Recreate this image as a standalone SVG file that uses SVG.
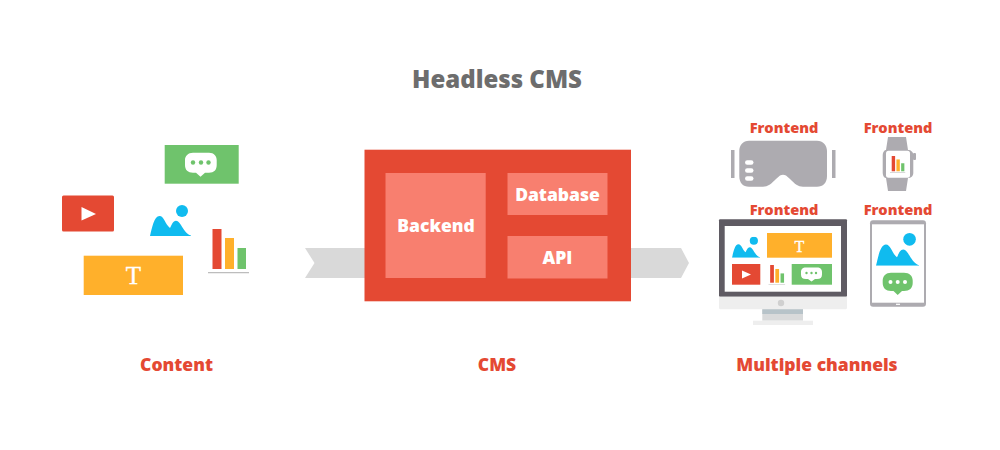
<svg xmlns="http://www.w3.org/2000/svg" width="1000" height="450" viewBox="0 0 1000 450">
<style>
text{font-family:"Open Sans","Liberation Sans",sans-serif;font-weight:800;text-anchor:middle}
.lab{fill:#e44933;font-size:17.5px}
.fe{fill:#e44933;font-size:14.6px}
.in{fill:#fff;font-size:17.5px}
.ttl{fill:#6d6d6d;font-size:24px}
.t{font-family:"Liberation Serif","DejaVu Serif",serif;font-weight:400;fill:#fff;stroke:#fff;stroke-width:.35}
.red{fill:#e44933}.yel{fill:#ffb02b}.grn{fill:#6fc36c}.blu{fill:#10bbef}.sal{fill:#f87f6f}.gry{fill:#adabb0}.arr{fill:#d9d9d9}
</style>
<defs>
<symbol id="mtn" viewBox="0 5 41 31" preserveAspectRatio="none">
<circle class="blu" cx="32" cy="11" r="6"/>
<path class="blu" d="M0 36C2 28 4 16 9.500 16C14 16 15 24 20 28C21.500 25 23 20.700 26 20.700C31 20.700 33 33 41 35.500L41 36Z"/>
</symbol>
<symbol id="cht" viewBox="0 0 41 44.500" preserveAspectRatio="none">
<rect class="red" x="4.500" width="9" height="40"/>
<rect class="yel" x="17" y="9" width="9" height="31"/>
<rect class="grn" x="29.500" y="19" width="8.500" height="21"/>
<rect fill="#bdbdbd" y="43" width="41" height="1.500"/>
</symbol>
</defs>
<text class="ttl" x="497" y="88">Headless CMS</text>
<g id="connectors">
<path class="arr" d="M305 248H365V278H305L314.500 263Z"/>
<path class="arr" d="M631 248H681L689 263L681 278H631Z"/>
</g>
<g id="content">
<g id="content-chat">
<rect class="grn" x="164.700" y="145" width="74" height="38.700"/>
<path fill="#fff" d="M193 152.700H209C214 152.700 216.700 156 216.700 160V165C216.700 170 214 172.700 209 172.700H205L200.500 176.700L196 172.700H193C188 172.700 185 170 185 165V160C185 156 188 152.700 193 152.700Z"/>
<g class="grn"><circle cx="193" cy="162.500" r="2.200"/><circle cx="201" cy="162.500" r="2.200"/><circle cx="208.500" cy="162.500" r="2.200"/></g>
</g>
<g id="content-video">
<rect class="red" x="62" y="195.500" width="52" height="36" rx="1.500"/>
<path fill="#fff" d="M81.500 207L96 214L81.500 220.500Z"/>
</g>
<use id="content-image" href="#mtn" x="150" y="205" width="41" height="31"/>
<g id="content-text">
<rect class="yel" x="83.700" y="255.700" width="99.300" height="39.300"/>
<text class="t" x="133.500" y="284" font-size="25">T</text>
</g>
<use id="content-chart" href="#cht" x="208" y="229" width="41" height="44.500"/>
</g>
<g id="cms">
<rect class="red" x="364.500" y="149.700" width="266.500" height="151.600"/>
<g id="backend"><rect class="sal" x="385.500" y="173" width="100.200" height="105"/><text class="in" x="436" y="231.500">Backend</text></g>
<g id="database"><rect class="sal" x="507.500" y="173" width="100" height="42"/><text class="in" x="557.500" y="200.500">Database</text></g>
<g id="api"><rect class="sal" x="507.500" y="236" width="100" height="42.500"/><text class="in" x="557.500" y="263.500">API</text></g>
</g>
<g id="vr">
<text class="fe" x="784" y="132.500">Frontend</text>
<path class="gry" d="M749 140.700H817C823 140.700 827 145 827 151V176C827 183 823 186.700 817 186.700H803C798 186.700 795 184 790 179L786 175.500Q783 174 780 175.500L776 179C771 184 768 186.700 763 186.700H749C743 186.700 739.300 183 739.300 176V151C739.300 145 743 140.700 749 140.700Z"/>
<rect class="gry" x="731" y="150" width="3.500" height="28"/>
<rect class="gry" x="832" y="150" width="3.500" height="28"/>
<g fill="#fff"><rect x="745" y="160.300" width="8.500" height="4.500" rx="2.250"/><rect x="745" y="168.300" width="8.500" height="4.500" rx="2.250"/><rect x="745" y="176.300" width="8.500" height="4.500" rx="2.250"/></g>
</g>
<g id="watch">
<text class="fe" x="898" y="132.500">Frontend</text>
<path class="gry" d="M888 137H906L908 150C911 150 913.300 152 913.300 155V173C913.300 176 911 178 908 178L906 191H888L886 178C884.500 178 882.700 176 882.700 173V155C882.700 152 884.500 150 886 150Z"/>
<rect class="gry" x="913" y="153" width="3" height="7" rx="1"/>
<rect fill="#fff" x="886" y="150.700" width="24" height="27" rx="2.500"/>
<use href="#cht" x="890" y="156" width="15.500" height="17"/>
</g>
<g id="monitor">
<text class="fe" x="784" y="214.500">Frontend</text>
<rect fill="#5f5b63" x="719" y="219.300" width="128" height="77.500" rx="1"/>
<path fill="#eeeeee" d="M719 296.700H847V308C847 309 846 309.300 845 309.300H721C720 309.300 719 309 719 308Z"/>
<rect fill="#fff" x="724.700" y="226" width="116.300" height="65.700"/>
<circle fill="#d0d0d0" cx="781" cy="303" r="3.200"/>
<rect fill="#d9dadb" x="762.300" y="309.300" width="40.700" height="11.400"/>
<rect fill="#b7c3c9" x="762.300" y="309.300" width="40.700" height="4.700"/>
<rect fill="#eeeeee" x="753" y="320.700" width="60" height="4.300"/>
<use href="#mtn" x="732" y="236.700" width="28" height="21"/>
<rect class="yel" x="767" y="233" width="65" height="24.700"/>
<text class="t" x="799.500" y="251.500" font-size="16">T</text>
<rect class="red" x="732" y="264" width="28.300" height="20.700"/>
<path fill="#fff" d="M742 270.500L751 274.500L742 278.500Z"/>
<use href="#cht" x="768.300" y="265" width="17" height="19.700"/>
<rect class="grn" x="791.700" y="264" width="40.300" height="20.700"/>
<path fill="#fff" d="M806 267.500H817C820.500 267.500 822 269.500 822 272V274.500C822 277.500 820.500 279 817 279H815L811.500 281.500L808 279H806C802.500 279 801 277.500 801 274.500V272C801 269.500 802.500 267.500 806 267.500Z"/>
<g class="grn"><circle cx="806.500" cy="273" r="1.200"/><circle cx="811.500" cy="273" r="1.200"/><circle cx="816" cy="273" r="1.200"/></g>
</g>
<g id="tablet">
<text class="fe" x="898" y="214.500">Frontend</text>
<rect class="gry" x="870" y="220.300" width="56" height="86.400" rx="3"/>
<rect fill="#fff" x="872" y="224.300" width="52" height="78.400"/>
<rect fill="#fff" x="896" y="303.700" width="4" height="1.200"/>
<use href="#mtn" x="876" y="233" width="43" height="32.700"/>
<path class="grn" d="M891 272.700H904C909.500 272.700 912.700 276 912.700 280.500V283C912.700 288 909.500 291 904 291H902L897.700 295L893.500 291H891C886 291 882.700 288 882.700 283V280.500C882.700 276 886 272.700 891 272.700Z"/>
<g fill="#fff"><circle cx="890.500" cy="282" r="2"/><circle cx="897.700" cy="282" r="2"/><circle cx="905" cy="282" r="2"/></g>
</g>
<text class="lab" x="176.500" y="370.500">Content</text>
<text class="lab" x="497" y="370.500">CMS</text>
<text class="lab" x="817" y="370.500">Multiple channels</text>
</svg>
